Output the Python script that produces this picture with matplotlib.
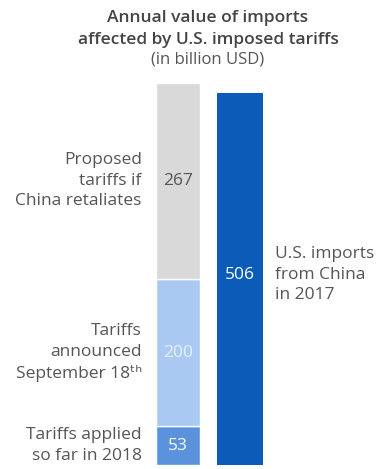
import matplotlib
matplotlib.use("Agg")
import matplotlib.pyplot as plt

plt.rcParams['font.family'] = ['Open Sans', 'DejaVu Sans']

# Stacked tariff tiers (bottom to top) and total imports
tier_labels = ["Tariffs applied\nso far in 2018",
               "Tariffs\nannounced\nSeptember 18\u1d57\u02b0",
               "Proposed\ntariffs if\nChina retaliates"]
tier_values = [53, 200, 267]
tier_colors = ["#5b92dd", "#a9c9f2", "#d9d9d9"]
tier_value_colors = ["#ffffff", "#e8f0fb", "#555555"]

total_label = "U.S. imports\nfrom China\nin 2017"
total_value = 506
total_color = "#0a5cb8"

title = "Annual value of imports\naffected by U.S. imposed tariffs"
subtitle = "(in billion USD)"

W, H = 377, 469
fig = plt.figure(figsize=(W / 100, H / 100), dpi=100)
fig.patch.set_facecolor("white")

# one category unit = 62 px; left bar centred at x=178 px
ax = fig.add_axes([147 / W, 4 / H, 124 / W, 372 / H])
ax.set_xlim(-0.5, 1.5)
ax.set_ylim(0, total_value)
ax.axis("off")

fs = 12.5
ls = 1.38
bw = 0.72
bottom = 0
for lab, val, col, vcol in zip(tier_labels, tier_values, tier_colors, tier_value_colors):
    ax.bar(0, val, bottom=bottom, width=bw, color=col, edgecolor="white",
           linewidth=1.0, clip_on=False)
    mid = bottom + val / 2
    ax.text(0, mid, str(val), ha="center", va="center", fontsize=fs, color=vcol)
    ax.annotate(lab, xy=(-bw / 2, mid), xytext=(-10, 0), textcoords="offset points",
                ha="right", va="center", fontsize=fs, color="#555555",
                linespacing=ls, annotation_clip=False)
    bottom += val

ax.bar(1, total_value, width=bw + 0.02, color=total_color, linewidth=0, clip_on=False)
ax.text(1, total_value / 2 + 6, str(total_value), ha="center", va="center",
        fontsize=fs, color="white")
ax.annotate(total_label, xy=(1 + (bw + 0.02) / 2, total_value / 2 + 6),
            xytext=(9, 0), textcoords="offset points", ha="left", va="center",
            fontsize=fs, color="#555555", linespacing=ls, annotation_clip=False)

fig.text(208 / W, 1 - 29 / H, title, ha="center", va="center", fontsize=12.5,
         fontweight="semibold", color="#444444", linespacing=1.42)
fig.text(208 / W, 1 - 60 / H, subtitle, ha="center", va="center", fontsize=12,
         color="#555555")

fig.savefig("out.png", dpi=100, facecolor="white")
